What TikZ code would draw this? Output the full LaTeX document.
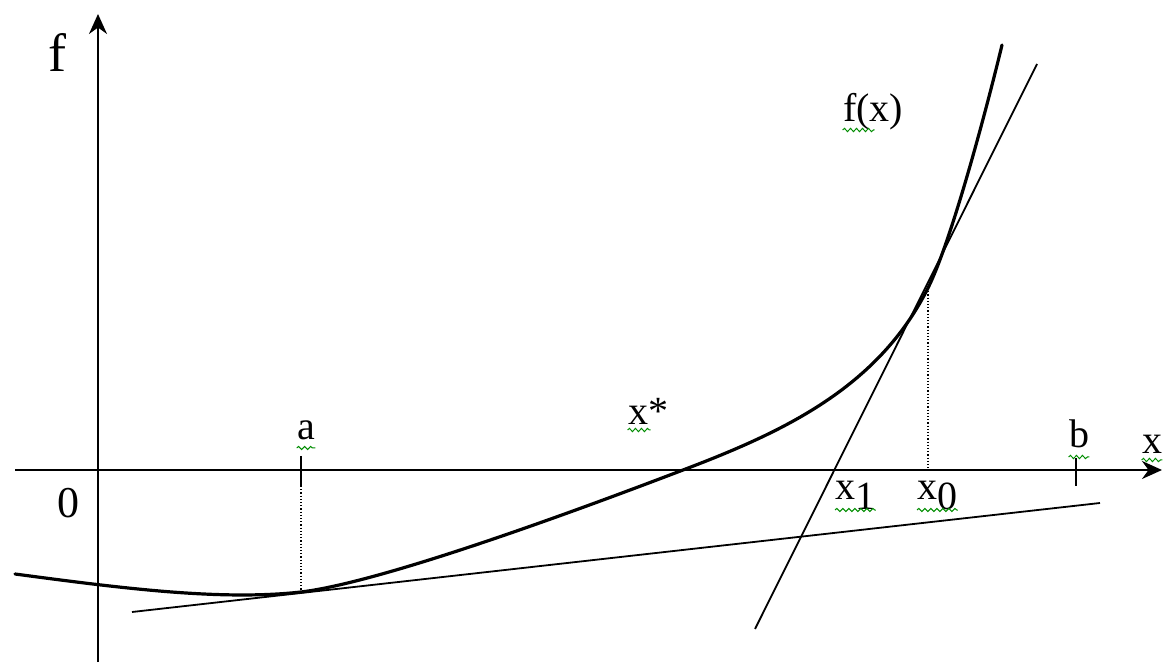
\documentclass[tikz,border=0pt]{standalone}
\usepackage{fontspec}
\setmainfont{Liberation Serif}
\usetikzlibrary{arrows.meta,decorations.pathmorphing}

\begin{document}
\begin{tikzpicture}[
  x=0.5pt, y=-0.5pt,
  axis/.style={line width=1pt, -{Stealth[length=10pt, width=9pt]}},
  graph/.style={line width=1.6pt, line cap=round},
  tang/.style={line width=0.9pt},
  drop/.style={densely dotted, line width=0.6pt},
  tickmark/.style={line width=0.9pt},
  lbl/.style={font=\fontsize{20}{24}\selectfont, inner sep=0pt, anchor=base},
  squiggle/.style={draw=green!55!black, line width=0.5pt, decorate,
                   decoration={snake, amplitude=0.8pt, segment length=3pt}}
]
\useasboundingbox (0,0) rectangle (1163,663);
% axes
\coordinate (xstart) at (15,470);
\coordinate (xend) at (1162,470);
\coordinate (ybot) at (98,662);
\coordinate (ytop) at (98,14);
\draw[axis] (xstart) -- (xend);
\draw[axis] (ybot) -- (ytop);
% interval ends and points on the curve
\coordinate (atop) at (301,456);
\coordinate (abot) at (301,486);
\coordinate (btop) at (1076,458);
\coordinate (bbot) at (1076,486);
\coordinate (xzero) at (928,470);
\coordinate (pstart) at (15,574);
\coordinate (pa) at (301,592);
\coordinate (proot) at (683,470);
\coordinate (pzero) at (928,288);
\coordinate (pend) at (1002,45);
\draw[tickmark] (atop) -- (abot);
\draw[tickmark] (btop) -- (bbot);
\draw[drop] (abot) -- (pa);
\draw[drop] (pzero) -- (xzero);
% tangents
\coordinate (ta1) at (132,612);
\coordinate (ta2) at (1100,503);
\coordinate (tz1) at (755,629);
\coordinate (tz2) at (1037,64);
\draw[tang] (ta1) -- (ta2);
\draw[tang] (tz1) -- (tz2);
% f(x)
\draw[graph] (pstart) .. controls (120,588) and (220,601) .. (pa)
  .. controls (351,586) and (463,554) .. (proot)
  .. controls (783,432) and (878,388) .. (pzero)
  .. controls (953,238) and (990,95) .. (pend);
% labels
\node[lbl, font=\fontsize{27}{30}\selectfont] (flbl) at (57,72) {f};
\node[lbl] (fx) at (873,122) {f(x)};
\node[lbl] (albl) at (306,440) {a};
\node[lbl] (xstar) at (648,425) {x*};
\node[lbl] (blbl) at (1079,448) {b};
\node[lbl] (xlbl) at (1152,453) {x};
\node[lbl, anchor=base west] (xone) at (835,500) {x\raisebox{-5pt}{1}};
\node[lbl, anchor=base west] (xnull) at (917,500) {x\raisebox{-5pt}{0}};
\node[lbl, font=\fontsize{22}{26}\selectfont] (zero) at (68,517) {0};
% spell-check marks
\draw[squiggle] ([yshift=-4pt]fx.base west) -- ++(16pt,0);
\draw[squiggle] ([yshift=-4pt]albl.base west) -- ([yshift=-4pt]albl.base east);
\draw[squiggle] ([yshift=-2.5pt]xstar.base west) -- ++(11.5pt,0);
\draw[squiggle] ([yshift=-4.5pt]blbl.base west) -- ([yshift=-4.5pt]blbl.base east);
\draw[squiggle] ([yshift=-3.5pt]xlbl.base west) -- ([yshift=-3.5pt]xlbl.base east);
\draw[squiggle] ([yshift=-5pt]xone.base west) -- ([yshift=-5pt]xone.base east);
\draw[squiggle] ([yshift=-5pt]xnull.base west) -- ([yshift=-5pt]xnull.base east);
\end{tikzpicture}
\end{document}
